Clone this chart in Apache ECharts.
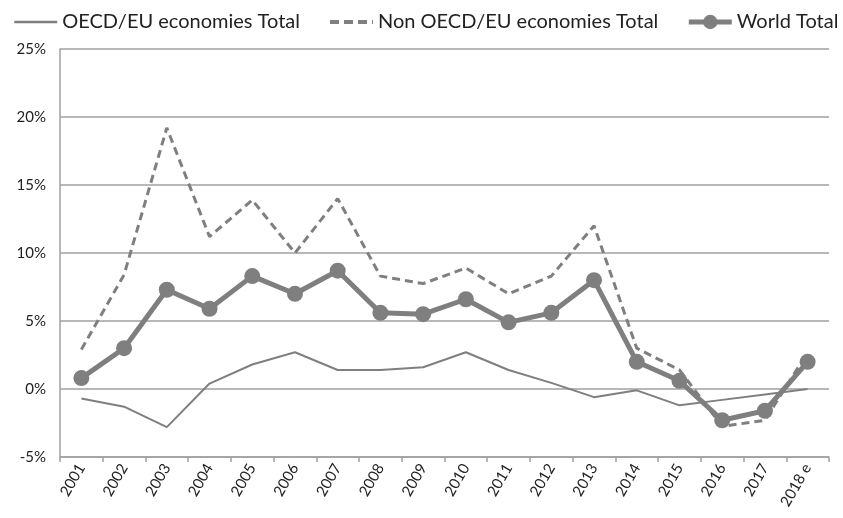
<!DOCTYPE html>
<html>
<head>
<meta charset="utf-8">
<script src="https://cdn.jsdelivr.net/npm/echarts@6/dist/echarts.min.js"></script>
<style>html,body{margin:0;padding:0;background:#fff}#c{width:843px;height:518px}</style>
</head>
<body>
<div id="c"></div>
<script>
const categories = ['2001','2002','2003','2004','2005','2006','2007','2008','2009','2010','2011','2012','2013','2014','2015','2016','2017','2018 e'];
const oecd = [-0.7,-1.3,-2.8,0.4,1.8,2.7,1.4,1.4,1.6,2.7,1.4,0.45,-0.6,-0.1,-1.2,-0.8,-0.4,0.0];
const nonOecd = [2.9,8.4,19.2,11.2,13.9,10.0,14.0,8.3,7.75,8.9,7.0,8.3,12.0,3.0,1.4,-2.75,-2.3,2.7];
const world = [0.8,3.0,7.3,5.9,8.3,7.0,8.7,5.6,5.5,6.6,4.9,5.6,8.0,2.0,0.6,-2.3,-1.6,2.0];
const seriesNames = ['OECD/EU economies Total','Non OECD/EU economies Total','World Total'];
const yTicks = {min:-5, max:25, step:5};

const FONT = 'Lato';
const GRAY = '#7f7f7f';
const hidden = {color:'rgba(0,0,0,0)', borderColor:'rgba(0,0,0,0)', borderWidth:0, opacity:0};
const chart = echarts.init(document.getElementById('c'), null, {renderer:'canvas'});
chart.setOption({
  animation:false,
  backgroundColor:'#fff',
  legend:{
    top:12, left:13, width:830, padding:0, itemWidth:43, itemHeight:18, itemGap:28,
    textStyle:{fontFamily:FONT, fontSize:20, color:'#222'},
    data:[
      {name:seriesNames[0], itemStyle:hidden, lineStyle:{width:2.5, color:GRAY}},
      {name:seriesNames[1], itemStyle:hidden, lineStyle:{width:4, color:GRAY, type:[9,5]}},
      {name:seriesNames[2], lineStyle:{width:5, color:GRAY}}
    ]
  },
  grid:{left:60, right:14, top:49, bottom:61, containLabel:false},
  xAxis:{
    type:'category', data:categories, boundaryGap:true,
    axisLine:{onZero:false, lineStyle:{color:'#a0a0a0', width:1.5}},
    axisTick:{show:true, length:5, lineStyle:{color:'#a0a0a0', width:1.5}},
    axisLabel:{rotate:60, fontFamily:FONT, fontSize:15, color:'#222', margin:8, interval:0}
  },
  yAxis:{
    type:'value', min:yTicks.min, max:yTicks.max, interval:yTicks.step,
    axisLine:{show:true, lineStyle:{color:'#a0a0a0', width:1.5}},
    axisTick:{show:false},
    splitLine:{lineStyle:{color:'#a0a0a0', width:1.5}},
    axisLabel:{formatter:'{value}%', fontFamily:FONT, fontSize:15, color:'#222', margin:14}
  },
  series:[
    {name:seriesNames[0], type:'line', data:oecd, symbol:'none',
     lineStyle:{color:GRAY, width:2}, itemStyle:{color:GRAY}},
    {name:seriesNames[1], type:'line', data:nonOecd, symbol:'none',
     lineStyle:{color:GRAY, width:3, type:[8,5]}, itemStyle:{color:GRAY}},
    {name:seriesNames[2], type:'line', data:world, symbol:'circle', symbolSize:16,
     lineStyle:{color:GRAY, width:5}, itemStyle:{color:GRAY}}
  ]
});
</script>
</body>
</html>
